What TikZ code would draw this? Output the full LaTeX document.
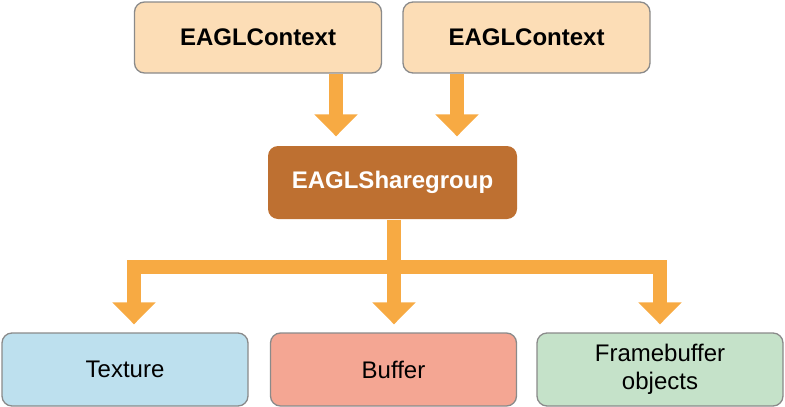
\documentclass[tikz,border=0pt]{standalone}
\usepackage{fontspec}
\setmainfont{Liberation Sans}
\usetikzlibrary{arrows.meta}
\definecolor{peach}{HTML}{FCDDB6}
\definecolor{brownbox}{HTML}{BE7031}
\definecolor{bluebox}{HTML}{BDE0EE}
\definecolor{salmon}{HTML}{F4A693}
\definecolor{greenbox}{HTML}{C5E2C9}
\definecolor{arrowor}{HTML}{F7AA43}
\definecolor{edgegray}{HTML}{8A8A8A}
\tikzset{
  box/.style={draw=edgegray, line width=1.3pt, rounded corners=10pt, align=center,
    font=\fontsize{24}{28}\selectfont, inner sep=0pt},
  ctx/.style={box, fill=peach, minimum width=247pt, minimum height=71pt, font=\fontsize{24}{28}\selectfont\bfseries},
  share/.style={box, draw=none, fill=brownbox, text=white, minimum width=249pt, minimum height=73pt, font=\fontsize{24}{28}\selectfont\bfseries},
  leaf/.style={box, minimum width=246pt, minimum height=73pt},
  arr/.style={draw=arrowor, line width=14pt, line join=miter,
    -{Triangle[length=22pt,width=42pt]}},
}
\begin{document}
\begin{tikzpicture}[x=1pt,y=-1pt]
\useasboundingbox (0,0) rectangle (785,407);
\node[ctx] (c1) at (258,37.5) {EAGLContext};
\node[ctx] (c2) at (526.5,37.5) {EAGLContext};
\node[share] (sg) at (392.5,182.5) {EAGLSharegroup};
\node[leaf, fill=bluebox] (tex) at (125,369.5) {Texture};
\node[leaf, fill=salmon] (buf) at (393.5,369.5) {Buffer};
\node[leaf, fill=greenbox] (fbo) at (660,369.5) {Framebuffer\\objects};
\coordinate (x1) at (336,0);
\coordinate (x2) at (457,0);
\coordinate (xm) at (394,0);
\coordinate (xl) at (134,0);
\coordinate (xr) at (660,0);
\coordinate (bus) at (394,267);
\draw[arr, shorten >=9pt] (c1.south -| x1) -- (sg.north -| x1);
\draw[arr, shorten >=9pt] (c2.south -| x2) -- (sg.north -| x2);
\draw[arr, shorten >=8pt] (sg.south -| xm) -- (buf.north -| xm);
\draw[arr, shorten >=8pt] (bus) -| (tex.north -| xl);
\draw[arr, shorten >=8pt] (bus) -| (fbo.north -| xr);
\end{tikzpicture}
\end{document}
